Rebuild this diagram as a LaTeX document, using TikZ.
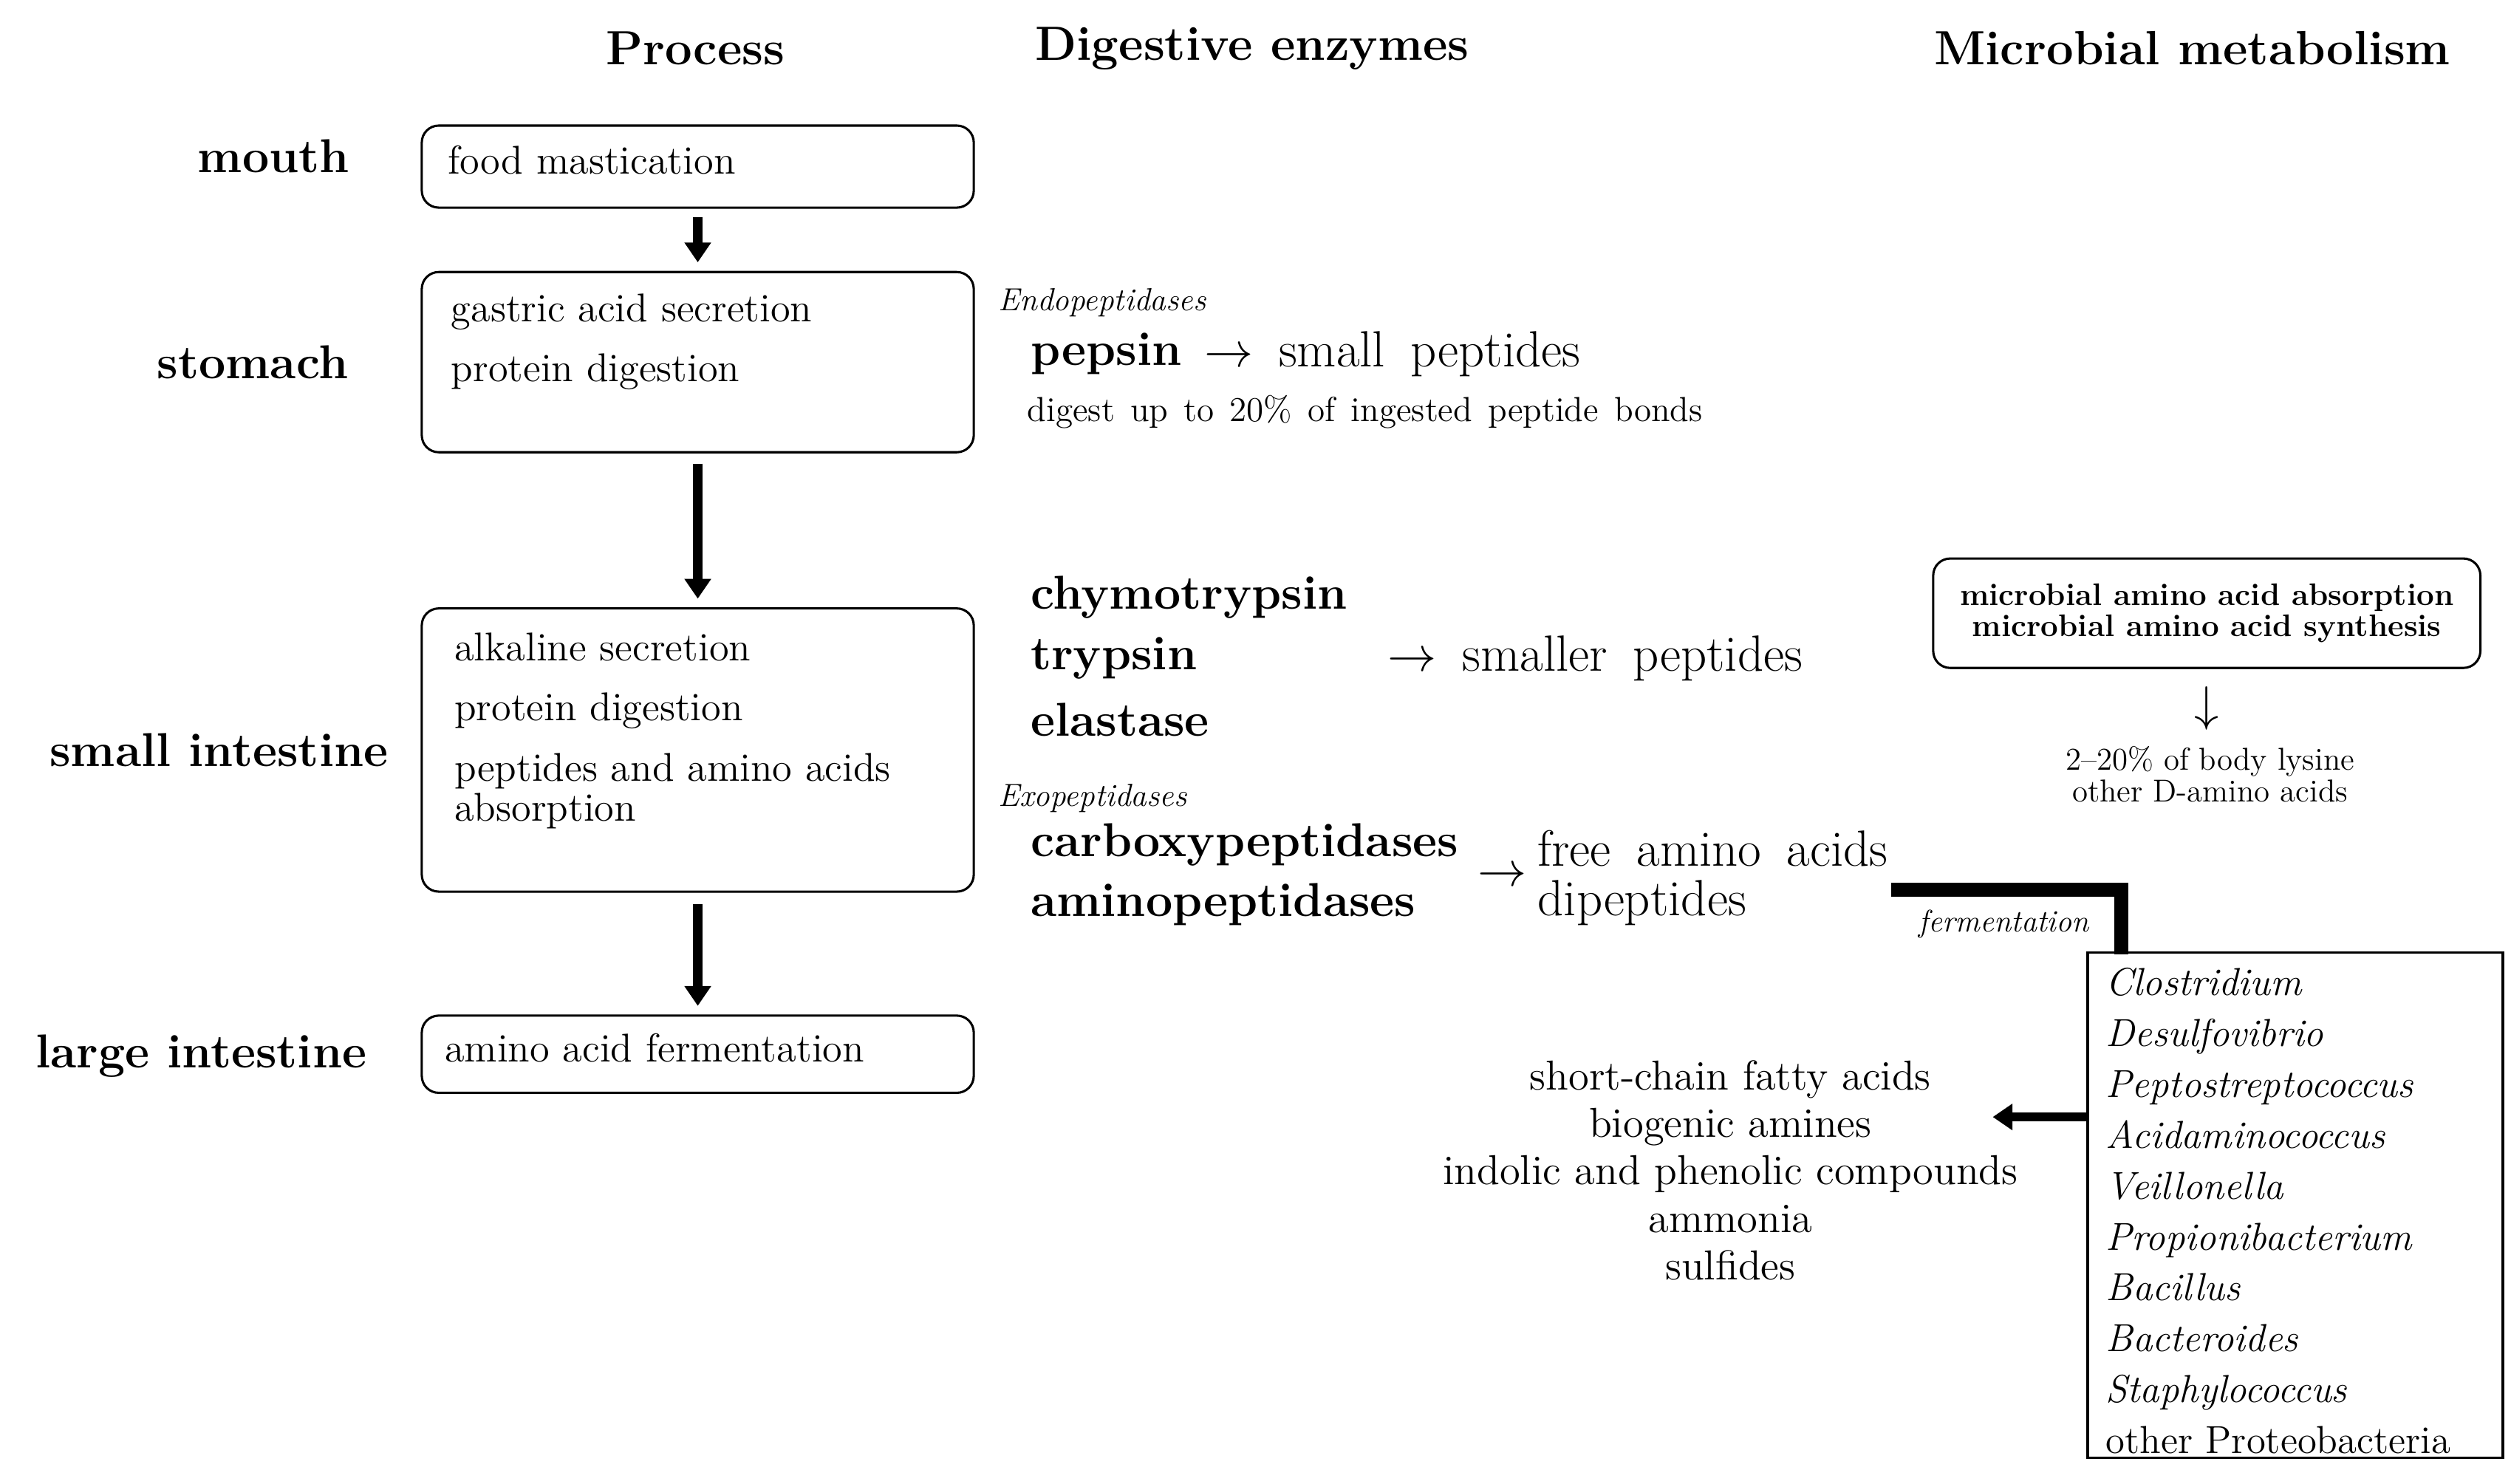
\documentclass[tikz,border=0pt]{standalone}
\usetikzlibrary{arrows.meta,positioning}
\newcommand{\fs}[1]{\fontsize{#1}{#1}\selectfont}
\tikzset{
  head/.style={font=\fs{17}\bfseries},
  organ/.style={font=\fs{16.8}\bfseries},
  stage/.style={draw, rounded corners=6pt, thick, minimum width=6.86cm, inner sep=0pt, outer sep=0pt},
  inbox/.style={anchor=north west, align=left, font=\fs{14.2}, inner sep=0pt},
  enz/.style={anchor=west, font=\fs{16.8}\bfseries, inner sep=0pt},
  plain/.style={anchor=west, font=\fs{18}, execute at begin node={\spaceskip=0.5em\relax}, inner sep=0pt},
  tiny/.style={anchor=west, font=\fs{11.3}\itshape, inner sep=0pt},
  fat/.style={line width=3.2pt, -{Triangle[width=9pt,length=7pt]}},
}
\begin{document}
\begin{tikzpicture}[x=0.02cm, y=-0.02cm]
    \useasboundingbox (0,0) rectangle (1560,921.6);
    %headings
    \node[head] (hproc) at (432,30) {Process};
    \node[head] (henz) at (778,30) {Digestive enzymes};
    \node[head] (hmic) at (1362,30) {Microbial metabolism};
    %organs
    \node[organ] (mouth) at (170,97) {mouth};
    \node[organ] (stomach) at (157,225) {stomach};
    \node[organ] (small) at (136,466) {small intestine};
    \node[organ] (large) at (125,656) {large intestine};
    %process boxes
    \node[stage, minimum height=1.02cm] (bmouth) at (433.5,103.5) {};
    \node[stage, minimum height=2.24cm] (bstom) at (433.5,225) {};
    \node[stage, minimum height=3.52cm] (bsmall) at (433.5,466) {};
    \node[stage, minimum height=0.96cm] (blarge) at (433.5,655) {};
    \node[inbox] (tmouth) at (278,90) {food mastication};
    \node[inbox] (tstom) at (280,182) {gastric acid secretion\\[7pt]protein digestion};
    \node[inbox] (tsmall) at (282,393) {alkaline secretion\\[7pt]protein digestion\\[7pt]peptides and amino acids\\absorption};
    \node[inbox] (tlarge) at (276,642) {amino acid fermentation};
    \draw[fat] (bmouth.south) ++(0,6) coordinate (a1) -- ++(0,28);
    \draw[fat] (bstom.south) ++(0,7) coordinate (a2) -- ++(0,84);
    \draw[fat] (bsmall.south) ++(0,8) coordinate (a3) -- ++(0,63);
    %enzymes
    \node[tiny] (endo) at (620,188) {Endopeptidases};
    \node[enz] (pepsin) at (640,220) {pepsin};
    \node[plain] (pepout) at (748,220) {$\rightarrow$ small peptides};
    \node[anchor=west, font=\fs{12.3}, execute at begin node={\spaceskip=0.45em\relax}, inner sep=0pt] (pepnote) at (638,256) {digest up to 20\% of ingested peptide bonds};
    \node[enz] (chymo) at (640,371) {chymotrypsin};
    \node[enz] (tryp) at (640,409) {trypsin};
    \node[enz] (elast) at (640,447) {elastase};
    \node[plain] (smpep) at (862,409) {$\rightarrow$ smaller peptides};
    \node[tiny] (exo) at (620,496) {Exopeptidases};
    \node[enz] (carb) at (640,525) {carboxypeptidases};
    \node[enz] (amino) at (640,562) {aminopeptidases};
    \node[plain] (arr) at (918,545) {$\rightarrow$};
    \node[plain] (free) at (955,527) {free amino acids};
    \node[plain] (dipep) at (955,561) {dipeptides};
    %fermentation
    \coordinate (f0) at (1175,553);
    \coordinate (f1) at (1318,553);
    \coordinate (f2) at (1318,593);
    \draw[line width=5pt] (f0) -- (f1) -- (f2);
    \node[font=\fs{11}\itshape] (ferm) at (1245,574) {fermentation};
    \node[draw, thick, anchor=north west, minimum width=5.16cm, minimum height=6.28cm, inner sep=0pt, outer sep=0pt] (bact) at (1297,592) {};
    \node[anchor=north west, font=\fs{13.8}, align=left, inner sep=0pt] (blist) at (1308,601)
        {\itshape Clostridium\\[4.2pt]\itshape Desulfovibrio\\[4.2pt]\itshape Peptostreptococcus\\[4.2pt]\itshape Acidaminococcus\\[4.2pt]\itshape Veillonella\\[4.2pt]\itshape Propionibacterium\\[4.2pt]\itshape Bacillus\\[4.2pt]\itshape Bacteroides\\[4.2pt]\itshape Staphylococcus\\[4.2pt]other Proteobacteria};
    \node[font=\fs{14.8}, align=center] (prod) at (1075,727)
        {short-chain fatty acids\\[2pt]biogenic amines\\[2pt]indolic and phenolic compounds\\[2pt]ammonia\\[2pt]sulfides};
    \draw[fat] (bact.west |- 0,694) -- (1238,694);
    %microbial synthesis
    \node[draw, thick, rounded corners=6pt, minimum width=6.8cm, minimum height=1.36cm, font=\fs{11}\bfseries, align=center] (mbox) at (1371,381)
        {microbial amino acid absorption\\microbial amino acid synthesis};
    \node[font=\fs{16}] (down) at (1371,440) {$\downarrow$};
    \node[font=\fs{11.2}, align=center] (lys) at (1373,481) {2--20\% of body lysine\\other D-amino acids};
\end{tikzpicture}
\end{document}
